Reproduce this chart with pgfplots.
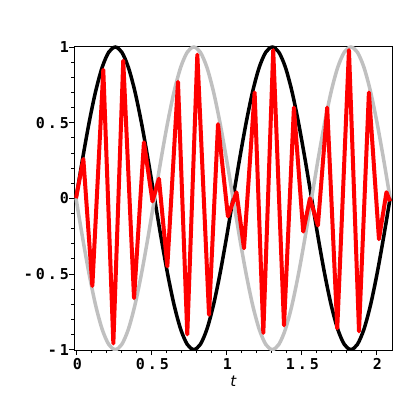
\documentclass[border=0pt]{standalone}
\usepackage{fontspec}
\usepackage{pgfplots}
\usepackage{pgfplotstable}
\pgfplotsset{compat=1.18}
\newfontfamily\ticfont[LetterSpace=20]{DejaVu Sans Mono}
\newfontfamily\labfont{DejaVu Sans}
\definecolor{lgray}{RGB}{192,192,192}

\pgfplotstableread{
t b g
0 0 0
0.0436 0.259 -0.259
0.0873 0.5 -0.5
0.1309 0.707 -0.707
0.1745 0.866 -0.866
0.2182 0.966 -0.966
0.2618 1 -1
0.3054 0.966 -0.966
0.3491 0.866 -0.866
0.3927 0.707 -0.707
0.4363 0.5 -0.5
0.4800 0.259 -0.259
0.5236 0 0
0.5672 -0.259 0.259
0.6109 -0.5 0.5
0.6545 -0.707 0.707
0.6981 -0.866 0.866
0.7418 -0.966 0.966
0.7854 -1 1
0.8290 -0.966 0.966
0.8727 -0.866 0.866
0.9163 -0.707 0.707
0.9599 -0.5 0.5
1.0036 -0.259 0.259
1.0472 0 0
1.0908 0.259 -0.259
1.1345 0.5 -0.5
1.1781 0.707 -0.707
1.2217 0.866 -0.866
1.2654 0.966 -0.966
1.3090 1 -1
1.3526 0.966 -0.966
1.3963 0.866 -0.866
1.4399 0.707 -0.707
1.4835 0.5 -0.5
1.5272 0.259 -0.259
1.5708 0 0
1.6144 -0.259 0.259
1.6581 -0.5 0.5
1.7017 -0.707 0.707
1.7453 -0.866 0.866
1.7890 -0.966 0.966
1.8326 -1 1
1.8762 -0.966 0.966
1.9199 -0.866 0.866
1.9635 -0.707 0.707
2.0071 -0.5 0.5
2.0508 -0.259 0.259
2.0944 0 0
}\envtable

\pgfplotstableread{
t r
0 0
0.049 0.26
0.109 -0.58
0.182 0.85
0.249 -0.96
0.315 0.91
0.387 -0.66
0.453 0.37
0.510 -0.02
0.553 0.13
0.609 -0.45
0.680 0.77
0.742 -0.90
0.809 0.95
0.887 -0.77
0.947 0.49
1.013 -0.12
1.070 0.04
1.120 -0.33
1.191 0.70
1.249 -0.89
1.315 0.98
1.387 -0.84
1.453 0.60
1.515 -0.22
1.560 0.00
1.613 -0.18
1.675 0.60
1.742 -0.86
1.820 0.98
1.887 -0.88
1.953 0.70
2.020 -0.27
2.070 0.04
2.094 -0.02
}\redtable

\begin{document}
\begin{tikzpicture}
\useasboundingbox (-74.5bp,-50bp) rectangle (325.5bp,350bp);
\begin{axis}[
  at={(0,0)}, anchor=south west,
  scale only axis, width=317.5bp, height=304bp,
  xmin=-0.01, xmax=2.107, ymin=-1.003, ymax=1.007,
  xtick={0,0.5,1,1.5,2}, xticklabels={0,0.5,1,1.5,2},
  ytick={-1,-0.5,0,0.5,1},
  yticklabels={-1\kern-3bp,-0.5\kern-3bp,0\kern-3bp,0.5\kern-3bp,1\kern-3bp},
  minor x tick num=4, minor y tick num=4,
  tick align=outside, tick pos=left,
  major tick length=5bp, minor tick length=3bp,
  axis line style={line width=0.8bp},
  every tick/.style={black, line width=0.8bp},
  tick label style={font=\ticfont\bfseries\fontsize{15bp}{15bp}\selectfont},
  xticklabel style={xshift=1.5bp},
  xlabel={\labfont\itshape\fontsize{15bp}{15bp}\selectfont t},
  xlabel style={yshift=1bp},
  clip=true,
]
\addplot[black, line width=3.5bp, smooth] table[x=t, y=b] {\envtable};
\addplot[lgray, line width=3.5bp, smooth] table[x=t, y=g] {\envtable};
\addplot[red, line width=4bp, line join=round] table[x=t, y=r] {\redtable};
\end{axis}
\end{tikzpicture}
\end{document}
